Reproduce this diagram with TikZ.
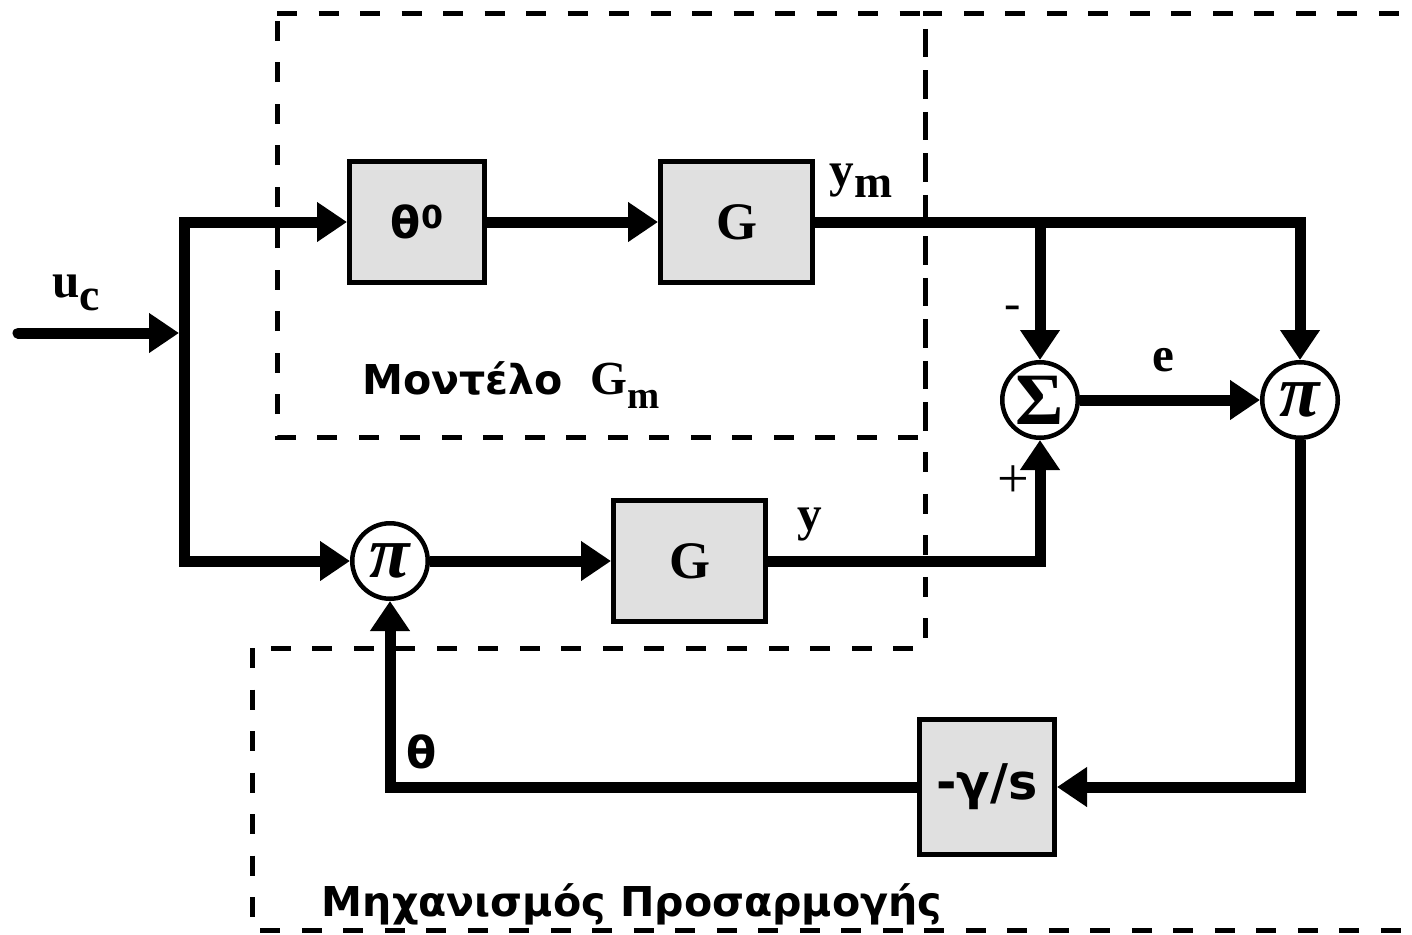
\documentclass[tikz,border=0pt]{standalone}
\usepackage{fontspec}
\setmainfont{Liberation Serif}
\newfontfamily\grsans{DejaVu Sans}
\usepackage{tikz}
\usetikzlibrary{arrows.meta,positioning}

\begin{document}
\begin{tikzpicture}[
    block/.style={rectangle, draw=black, line width=0.05cm, fill=black!12, minimum width=1.35cm, minimum height=1.21cm, inner sep=0pt},
    circ/.style={circle, draw=black, line width=0.045cm, fill=white, minimum size=0.755cm, inner sep=0pt, font=\fontsize{21}{21}\selectfont\bfseries},
    arrow/.style={-{Triangle[length=0.30cm, width=0.38cm]}, line width=0.11cm},
    wire/.style={line width=0.11cm},
    dashbox/.style={line width=0.05cm, dash pattern=on 0.2cm off 0.215cm},
    serlab/.style={font=\fontsize{14}{14}\selectfont\bfseries, inner sep=0pt},
    grlab/.style={font=\grsans\fontsize{11.7}{11.7}\selectfont\bfseries, inner sep=0pt},
]
    \clip (0,0) rectangle (14.12,9.34);

    % dashed frames
    \draw[dashbox] (2.77,9.21) -- (9.25,9.21) -- (9.25,4.97) -- (2.77,4.97) -- cycle;
    \draw[dashbox] (2.52,2.86) -- (2.52,0.04) -- (14.5,0.04) -- (14.5,9.21) -- (9.25,9.21) -- (9.25,2.86) -- cycle;

    \node[block] (theta0) at (4.17,7.12) {\grsans\fontsize{12.5}{12.5}\selectfont\bfseries θ\raisebox{3pt}{\fontsize{9}{9}\selectfont 0}};
    \node[block, minimum width=1.52cm, right=1.71cm of theta0] (Gm) {\fontsize{15}{15}\selectfont\bfseries G};

    \node[circ] (multL) at (3.90,3.73) {\textit{π}};
    \node[block, minimum width=1.52cm, right=1.81cm of multL] (G) {\fontsize{15}{15}\selectfont\bfseries G};

    \node[circ] (sum) at (10.40,5.34) {Σ};
    \node[circ, right=1.80cm of sum] (mult) {\textit{π}};

    \node[block, minimum height=1.35cm] (gain) at (9.87,1.47) {\grsans\fontsize{14}{14}\selectfont\bfseries -γ/s};

    \coordinate (in) at (0.18,6.01);
    \coordinate (bus) at (1.84,6.01);

    \draw[arrow, line cap=round, shorten >=0.05cm] (in) -- (bus);
    \draw[arrow] (bus |- multL) -- (bus |- theta0) -- (theta0);
    \draw[arrow] (bus |- theta0) -- (bus |- multL) -- (multL);
    \draw[arrow] (theta0) -- (Gm);
    \draw[arrow] (Gm.east) -| (mult.north);
    \draw[arrow] (Gm.east) -| (sum.north);
    \draw[arrow] (multL) -- (G);
    \draw[arrow] (G.east) -| (sum.south);
    \draw[arrow] (sum) -- (mult);
    \draw[arrow] (mult.south) |- (gain.east);
    \draw[arrow] (gain.west) -| (multL.south);

    \node[serlab] (uclab) at (0.76,6.41) {u\raisebox{-3.5pt}{\fontsize{13}{13}\selectfont c}};
    \node[serlab] (ymlab) at (8.61,7.53) {y\raisebox{-3pt}{\fontsize{13}{13}\selectfont m}};
    \node[serlab] (ylab) at (8.10,4.09) {y};
    \node[serlab] (elab) at (11.63,5.74) {e};
    \node[font=\fontsize{14}{14}\selectfont, inner sep=0pt] (minus) at (10.13,6.21) {-};
    \node[font=\fontsize{16}{16}\selectfont, inner sep=0pt] (plus) at (10.13,4.52) {+};
    \node[grlab, font=\grsans\fontsize{12.5}{12.5}\selectfont\bfseries] (thetalab) at (4.22,1.82) {θ};
    \node[grlab] (modlab) at (5.11,5.49) {Μοντέλο\hspace{8pt}{\rmfamily\fontsize{13.5}{13.5}\selectfont\bfseries G\raisebox{-4pt}{\fontsize{11}{11}\selectfont m}}};
    \node[grlab] (mechlab) at (6.32,0.30) {Μηχανισμός Προσαρμογής};
\end{tikzpicture}
\end{document}
